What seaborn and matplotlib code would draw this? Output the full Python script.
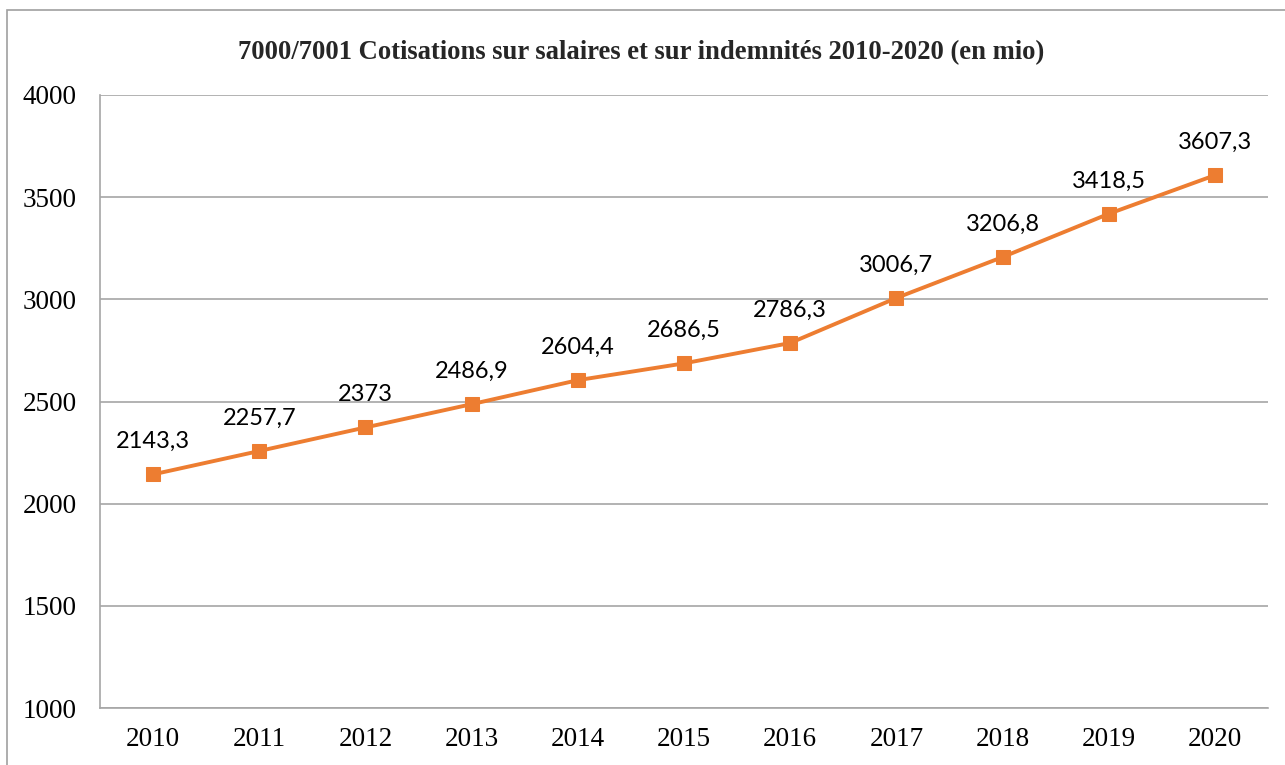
import numpy as np
import pandas as pd
import seaborn as sns
import matplotlib.pyplot as plt
from matplotlib.patches import Rectangle

# Data
years = ['2010', '2011', '2012', '2013', '2014', '2015', '2016', '2017', '2018', '2019', '2020']
values = [2143.3, 2257.7, 2373, 2486.9, 2604.4, 2686.5, 2786.3, 3006.7, 3206.8, 3418.5, 3607.3]
labels = ['2143,3', '2257,7', '2373', '2486,9', '2604,4', '2686,5', '2786,3',
          '3006,7', '3206,8', '3418,5', '3607,3']
yticks = [1000, 1500, 2000, 2500, 3000, 3500, 4000]

df = pd.DataFrame({'year': years, 'value': values})

sns.set_style('white')
plt.rcParams['font.family'] = ['Liberation Serif', 'DejaVu Serif']

fig = plt.figure(figsize=(12.85, 7.65), dpi=100)
ax = fig.add_axes([100 / 1285, 1 - 708 / 765, 1168 / 1285, 613 / 765])

orange = '#ED7D31'
sns.lineplot(data=df, x='year', y='value', ax=ax, color=orange, linewidth=2.8,
             marker='s', markersize=10, markeredgecolor=orange, sort=False)

for i, (v, lab) in enumerate(zip(values, labels)):
    ax.annotate(lab, (i, v), xytext=(0, 16), textcoords='offset points',
                ha='center', va='bottom', fontsize=17, family='Lato', color='black')

ax.set_xlim(-0.5, len(years) - 0.5)
ax.set_ylim(1000, 4000)
ax.set_yticks(yticks)
ax.yaxis.grid(True, color='#A6A6A6', linewidth=1.2)
ax.xaxis.grid(False)
ax.set_xlabel('')
ax.set_ylabel('')
ax.tick_params(axis='both', labelsize=19.5, length=0, colors='black')
ax.tick_params(axis='y', pad=17)
ax.tick_params(axis='x', pad=14)

for s in ['top', 'right']:
    ax.spines[s].set_visible(False)
for s in ['left', 'bottom']:
    ax.spines[s].set_color('#A6A6A6')
    ax.spines[s].set_linewidth(1.2)

fig.text(0.5 * (237 + 1045) / 1285, 1 - 53 / 765,
         '7000/7001 Cotisations sur salaires et sur indemnités 2010-2020 (en mio)',
         ha='center', va='center', fontsize=19.2, fontweight='bold')

# outer chart border (extends past right/bottom edges)
fig.patches.append(Rectangle((7 / 1285, -0.1), 1.2, 1.1 - 10 / 765,
                             transform=fig.transFigure, fill=False,
                             edgecolor='#A0A0A0', linewidth=1.2))

plt.savefig('out.png', dpi=100)
